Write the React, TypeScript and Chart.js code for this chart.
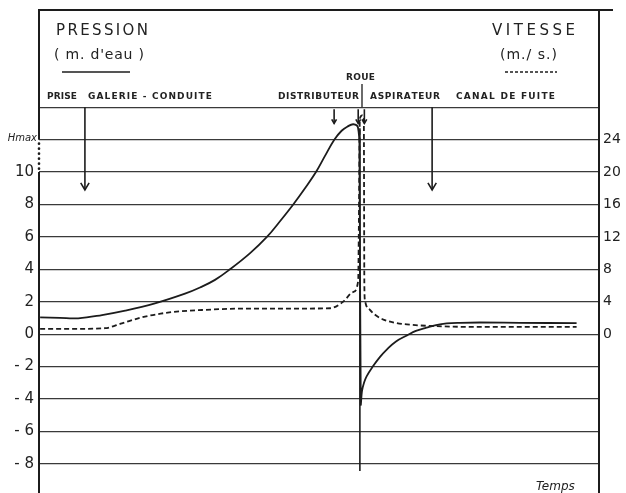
import React, { useEffect, useRef } from 'react';
import { Chart, registerables } from 'chart.js';

Chart.register(...registerables);

// ---- data (time axis 0..100, pressure in m d'eau, velocity in m/s) ----
const pressureTime = [0.2, 3.75, 7.0, 11.25, 15.4, 20.7, 26.07, 28.75, 31.43, 34.1, 37.7, 40.7, 43.0, 45.4, 47.5, 49.46, 51.07, 52.73, 54.04, 55.04, 56.13, 56.96, 57.23, 57.46, 57.68, 58.04, 58.5, 59.6, 60.9, 62.1, 63.75, 65.7, 67.3, 69.2, 70.9, 72.8, 75.2, 78.75, 85.9, 96.0];
const pressureValues = [1.04, 1.0, 0.98, 1.18, 1.45, 1.9, 2.5, 2.88, 3.35, 4.0, 5.0, 6.0, 6.95, 8.0, 9.0, 10.0, 11.0, 12.0, 12.55, 12.8, 12.95, 12.75, 11.0, -4.3, -3.5, -3.0, -2.6, -2.0, -1.4, -0.95, -0.45, -0.08, 0.2, 0.4, 0.56, 0.66, 0.7, 0.72, 0.7, 0.68];

const velocityTime = [0.2, 7.0, 11.8, 14.8, 18.4, 23.0, 29.1, 37.3, 46.6, 52.0, 54.3, 56.1, 57.0, 57.1, 57.3, 57.7, 58.0, 58.1, 58.2, 59.1, 60.2, 61.5, 63.6, 65.7, 70.4, 77.0, 96.0];
const velocityValues = [0.66, 0.66, 0.74, 1.34, 2.08, 2.66, 2.98, 3.16, 3.16, 3.2, 4.0, 5.2, 6.6, 12, 26.6, 27, 26.6, 6, 4.2, 3.0, 2.3, 1.8, 1.4, 1.2, 1.0, 0.9, 0.9];

const rouePosition = 57.3;
const roueLineRange = [-8.45, 12.7];

const pressureGridValues = [-8, -6, -4, -2, 0, 2, 4, 6, 8, 10, 12, 14];
const pressureTickLabels = ['- 8', '- 6', '- 4', '- 2', '0', '2', '4', '6', '8', '10', '', ''];
const velocityTickValues = [0, 4, 8, 12, 16, 20, 24];
const velocityTickLabels = ['0', '4', '8', '12', '16', '20', '24'];

const INK = '#1c1c1c';
const GRID = '#3a3a3a';
const FONT = '"DejaVu Sans", sans-serif';

function spacedText(ctx: CanvasRenderingContext2D, text: string, x0: number, x1: number, y: number, font: string) {
  ctx.font = font;
  ctx.textAlign = 'left';
  ctx.textBaseline = 'middle';
  const chars = [...text];
  const widths = chars.map((c) => ctx.measureText(c).width);
  const total = widths.reduce((a, b) => a + b, 0);
  const gap = chars.length > 1 ? (x1 - x0 - total) / (chars.length - 1) : 0;
  let x = x0;
  chars.forEach((c, i) => {
    ctx.fillText(c, x, y);
    x += widths[i] + gap;
  });
}

function seg(ctx: CanvasRenderingContext2D, x0: number, y0: number, x1: number, y1: number, w: number) {
  ctx.lineWidth = w;
  ctx.beginPath();
  ctx.moveTo(x0, y0);
  ctx.lineTo(x1, y1);
  ctx.stroke();
}

function arrowDown(ctx: CanvasRenderingContext2D, x: number, y0: number, y1: number, head: number, w: number) {
  seg(ctx, x, y0, x, y1, w);
  ctx.beginPath();
  ctx.moveTo(x - head * 0.6, y1 - head);
  ctx.lineTo(x, y1);
  ctx.lineTo(x + head * 0.6, y1 - head);
  ctx.lineWidth = w;
  ctx.stroke();
}

const decor = {
  id: 'decor',
  afterDraw(chart: any) {
    const { ctx, chartArea: ca, scales } = chart;
    const X = (v: number) => scales.x.getPixelForValue(v);
    const Y = (v: number) => scales.y.getPixelForValue(v);
    ctx.save();
    ctx.strokeStyle = INK;
    ctx.fillStyle = INK;
    ctx.setLineDash([]);

    // frame: top and broken left border
    seg(ctx, ca.left - 1, ca.top, ca.right + 14, ca.top, 2);
    seg(ctx, ca.left, ca.top, ca.left, Y(12), 2);
    seg(ctx, ca.left, Y(10), ca.left, ca.bottom, 2);
    for (let y = Y(12) + 4; y < Y(10) - 2; y += 5) {
      ctx.beginPath();
      ctx.arc(ca.left, y, 1.3, 0, Math.PI * 2);
      ctx.fill();
    }

    // titles
    ctx.fillStyle = '#222';
    spacedText(ctx, 'PRESSION', 56, 148, 31, `15px ${FONT}`);
    spacedText(ctx, "( m. d'eau )", 54, 144, 55, `14px ${FONT}`);
    seg(ctx, 62, 72, 130, 72, 1.6);
    spacedText(ctx, 'VITESSE', 492, 575, 31, `15px ${FONT}`);
    spacedText(ctx, '(m./ s.)', 500, 557, 55, `14px ${FONT}`);
    ctx.setLineDash([3, 2]);
    seg(ctx, 505, 72, 557, 72, 1.4);
    ctx.setLineDash([]);

    // section labels
    const small = `bold 9px ${FONT}`;
    spacedText(ctx, 'PRISE', 47, 77, 97, small);
    spacedText(ctx, 'GALERIE - CONDUITE', 88, 212, 97, small);
    spacedText(ctx, 'DISTRIBUTEUR', 278, 359, 97, small);
    spacedText(ctx, 'ASPIRATEUR', 370, 440, 97, small);
    spacedText(ctx, 'CANAL DE FUITE', 456, 555, 97, small);
    spacedText(ctx, 'ROUE', 346, 375, 78, small);
    seg(ctx, 362, 84, 362, Y(14), 1.3);

    // arrows
    arrowDown(ctx, X(8.2), Y(14), Y(8.9), 7, 1.6);
    arrowDown(ctx, X(70.2), Y(14), Y(8.9), 7, 1.6);
    arrowDown(ctx, X(52.7), Y(14) + 2, Y(13.0), 4, 1.6);
    arrowDown(ctx, X(57.0), Y(14) + 2, Y(13.0), 4, 1.6);
    arrowDown(ctx, X(58.1), Y(14) + 2, Y(13.0), 4, 1.6);

    // Hmax and Temps
    ctx.font = `italic 10px ${FONT}`;
    ctx.textAlign = 'right';
    ctx.textBaseline = 'middle';
    ctx.fillText('Hmax', ca.left - 2, Y(12) - 1);
    ctx.font = `italic 12px ${FONT}`;
    ctx.textAlign = 'left';
    ctx.fillText('Temps', 536, 487);
    ctx.restore();
  },
};

const noPad = (s: any, w: number) => {
  s.width = w;
  s.paddingTop = 0;
  s.paddingBottom = 0;
};

export default function App() {
  const ref = useRef<HTMLCanvasElement | null>(null);
  useEffect(() => {
    const canvas = ref.current;
    if (!canvas) return;
    const chart = new Chart(canvas, {
      type: 'line',
      data: {
        datasets: [
          {
            label: 'Pression',
            data: pressureTime.map((t, i) => ({ x: t, y: pressureValues[i] })),
            yAxisID: 'y',
            borderColor: INK,
            borderWidth: 1.8,
            pointRadius: 0,
            tension: 0.4,
            fill: false,
          },
          {
            label: 'Vitesse',
            data: velocityTime.map((t, i) => ({ x: t, y: velocityValues[i] })),
            yAxisID: 'y1',
            borderColor: INK,
            borderWidth: 1.8,
            borderDash: [5, 3],
            pointRadius: 0,
            cubicInterpolationMode: 'monotone',
            fill: false,
          },
          {
            label: 'Roue',
            data: [
              { x: rouePosition, y: roueLineRange[0] },
              { x: rouePosition, y: roueLineRange[1] },
            ],
            yAxisID: 'y',
            borderColor: INK,
            borderWidth: 1.6,
            pointRadius: 0,
            fill: false,
          },
        ],
      },
      options: {
        animation: false,
        responsive: false,
        devicePixelRatio: 1,
        layout: { padding: { top: 10, left: 0, right: 0, bottom: 0 } },
        plugins: { legend: { display: false }, tooltip: { enabled: false } },
        scales: {
          x: { type: 'linear', min: 0, max: 100, display: false },
          y: {
            type: 'linear',
            position: 'left',
            min: -9.8,
            max: 20,
            afterFit: (s: any) => noPad(s, 39),
            afterBuildTicks: (s: any) => { s.ticks = pressureGridValues.map((v) => ({ value: v })); },
            ticks: {
              callback: (v: any) => pressureTickLabels[pressureGridValues.indexOf(Number(v))] ?? '',
              color: '#222',
              font: { family: FONT, size: 15 },
              padding: 5,
            },
            grid: { color: GRID, lineWidth: 1.3, drawTicks: false },
            border: { display: false },
          },
          y1: {
            type: 'linear',
            position: 'right',
            min: -19.6,
            max: 40,
            afterFit: (s: any) => noPad(s, 27),
            afterBuildTicks: (s: any) => { s.ticks = velocityTickValues.map((v) => ({ value: v })); },
            ticks: {
              callback: (v: any) => velocityTickLabels[velocityTickValues.indexOf(Number(v))] ?? '',
              color: '#222',
              font: { family: FONT, size: 14 },
              padding: 4,
            },
            grid: { display: false, drawTicks: false },
            border: { display: true, color: INK, width: 2 },
          },
        },
      },
      plugins: [decor],
    });
    return () => chart.destroy();
  }, []);
  return (
    <div style={{ position: 'absolute', left: 0, top: 0, width: 626, height: 493, background: '#fff' }}>
      <canvas ref={ref} width={626} height={493} style={{ display: 'block' }} />
    </div>
  );
}
